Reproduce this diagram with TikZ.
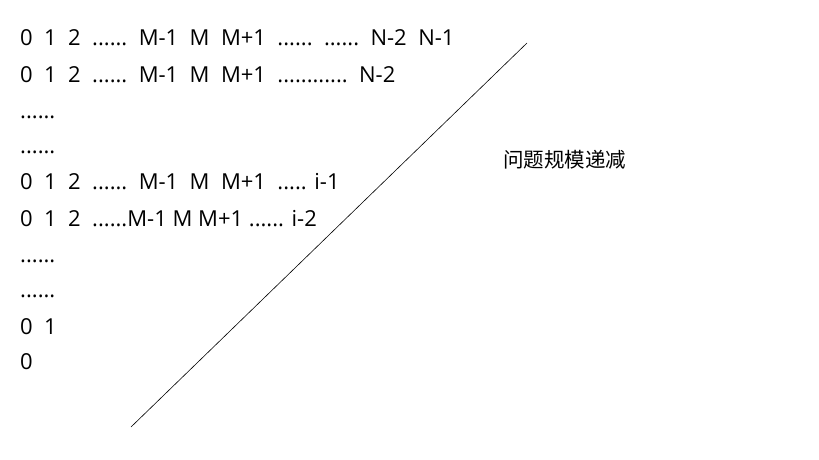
\documentclass[tikz,border=0pt]{standalone}
\usepackage{fontspec}
\setmainfont{Open Sans}
\newfontfamily\cjkfont{Noto Sans CJK SC}
\usetikzlibrary{positioning}

\begin{document}
\begin{tikzpicture}[x=1pt,y=-1pt,row/.style = {anchor=base west, inner sep=0pt, font=\fontsize{22}{25}\selectfont},label/.style = {anchor=base west, inner sep=0pt, font=\cjkfont\fontsize{20.5}{23}\selectfont}]
		\useasboundingbox (0,0) rectangle (819,460);
		\node[row] (r1) at (20,46) {0\ \ 1\ \ 2\ \ ......\ \ M-1\ \ M\ \ M+1\ \ ......\ \ ......\ \ N-2\ \ N-1};
		\node[row] (r2) at (20,82) {0\ \ 1\ \ 2\ \ ......\ \ M-1\ \ M\ \ M+1\ \ ............\ \ N-2};
		\node[row] (r3) at (20,118) {......};
		\node[row] (r4) at (20,153) {......};
		\node[row] (r5) at (20,189) {0\ \ 1\ \ 2\ \ ......\ \ M-1\ \ M\ \ M+1\ \ ..... i-1};
		\node[row] (r6) at (20,226) {0\ \ 1\ \ 2\ \ ......M-1 M M+1 ...... i-2};
		\node[row] (r7) at (20,262) {......};
		\node[row] (r8) at (20,297) {......};
		\node[row] (r9) at (20,334) {0\ \ 1};
		\node[row] (r10) at (20,369) {0};
		\node[label] (t) at (503,167) {问题规模递减};
		\coordinate (a) at (131,427);
		\coordinate (b) at (527,43);
		\draw[line width=0.6pt] (a) to (b);
	\end{tikzpicture}
\end{document}
